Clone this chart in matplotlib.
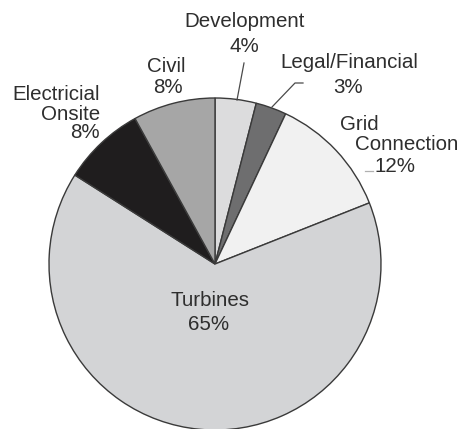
import matplotlib
matplotlib.use("Agg")
import matplotlib.pyplot as plt

labels = ["Development", "Legal/Financial", "Grid Connection", "Turbines", "Electricial Onsite", "Civil"]
values = [4, 3, 12, 65, 8, 8]
colors = ["#dcdcdd", "#6e6e6f", "#f1f1f1", "#d3d4d6", "#1f1d1e", "#a6a6a6"]

W, H = 469, 429
fig = plt.figure(figsize=(W / 100, H / 100), dpi=100)
ax = fig.add_axes([0, 0, 1, 1])

def Y(y):
    return H - y

ax.pie(values, colors=colors, startangle=90, counterclock=False,
       center=(215, Y(264)), radius=166,
       wedgeprops=dict(edgecolor="#3a3a3a", linewidth=1.0))
ax.set_xlim(0, W)
ax.set_ylim(0, H)
ax.set_aspect("equal")
ax.axis("off")

fs = 14.8
tc = "#2e2e2e"
font = "Liberation Sans"

def t(x, y, s, ha="center"):
    ax.text(x, Y(y), s, ha=ha, va="baseline", fontsize=fs, color=tc, family=font)

pct = [f"{v}%" for v in values]
lc = "#4a4a4a"

t(245, 27, labels[0])
t(244, 52, pct[0])
ax.plot([244, 237], [Y(63), Y(100)], color=lc, lw=0.9)

t(349, 68, labels[1])
t(348, 93, pct[1])
ax.plot([303, 295, 272], [Y(83), Y(83), Y(107)], color=lc, lw=0.9)

t(340, 130, "Grid", ha="left")
t(355, 150, "Connection", ha="left")
t(375, 172, pct[2], ha="left")
ax.plot([365, 373], [Y(171), Y(171)], color="#b0b0b0", lw=0.9)

t(210, 306, labels[3])
t(209, 330, pct[3])

t(100, 100, "Electricial", ha="right")
t(100, 120, "Onsite", ha="right")
t(100, 138, pct[4], ha="right")

t(166, 72, labels[5])
t(168, 93, pct[5])

fig.savefig("out.png", dpi=100)
